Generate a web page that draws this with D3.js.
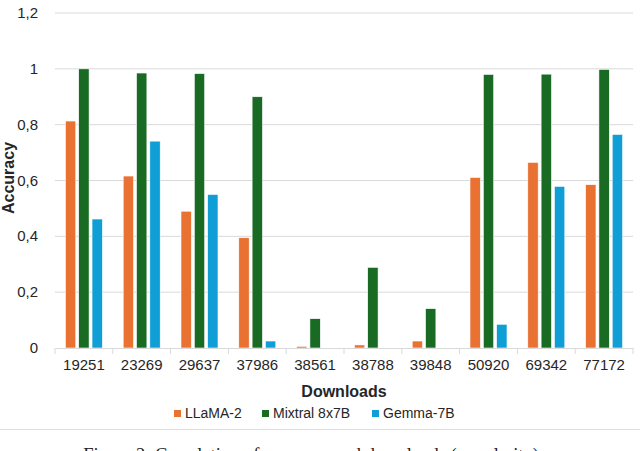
<!DOCTYPE html>
<html>
<head>
<meta charset="utf-8">
<script src="https://cdn.jsdelivr.net/npm/d3@7"></script>
<style>
  body { margin: 0; background: #fff; }
  svg { display: block; font-family: "Liberation Sans", Arial, sans-serif; }
</style>
</head>
<body>
<svg id="chart" width="640" height="451"></svg>
<script>
var downloads = ["19251", "23269", "29637", "37986", "38561", "38788", "39848", "50920", "69342", "77172"];
var llama = [0.813, 0.616, 0.49, 0.395, 0.006, 0.011, 0.025, 0.611, 0.665, 0.585];
var mixtral = [1.0, 0.985, 0.983, 0.9, 0.105, 0.289, 0.141, 0.98, 0.981, 0.998];
var gemma = [0.462, 0.741, 0.55, 0.025, 0, 0, 0, 0.085, 0.579, 0.765];
var seriesNames = ["LLaMA-2", "Mixtral 8x7B", "Gemma-7B"];
var yTicks = [0, 0.2, 0.4, 0.6, 0.8, 1, 1.2];

var colors = ["#E97132", "#196B24", "#0F9ED5"];
var seriesVals = [llama, mixtral, gemma];

var svg = d3.select("#chart");
var plotLeft = 55, plotRight = 633, plotTop = 13, plotBottom = 348;

var x = d3.scaleBand().domain(downloads).range([plotLeft, plotRight]);
var x1 = d3.scaleBand().domain(seriesNames).range([x.bandwidth() / 2 - 18.5, x.bandwidth() / 2 + 18.5]).paddingInner(0.22);
var y = d3.scaleLinear().domain([0, 1.2]).range([plotBottom, plotTop]);

// gridlines
svg.append("g").selectAll("line")
  .data(yTicks.slice(1))
  .enter().append("line")
  .attr("x1", plotLeft).attr("x2", plotRight)
  .attr("y1", function(d) { return y(d); }).attr("y2", function(d) { return y(d); })
  .attr("stroke", "#d9d9d9").attr("stroke-width", 1);

// y labels
svg.append("g").selectAll("text")
  .data(yTicks)
  .enter().append("text")
  .attr("x", 38).attr("y", function(d) { return y(d) + 5; })
  .attr("text-anchor", "end")
  .attr("font-size", 15).attr("fill", "#262626")
  .text(function(d) { return String(d).replace(".", ","); });

// bars
var groups = svg.append("g").selectAll("g")
  .data(downloads)
  .enter().append("g")
  .attr("transform", function(d) { return "translate(" + x(d) + ",0)"; });

groups.selectAll("rect")
  .data(function(d, i) {
    return seriesNames.map(function(s, j) { return { s: s, v: seriesVals[j][i], c: colors[j] }; });
  })
  .enter().append("rect")
  .attr("x", function(d) { return x1(d.s); })
  .attr("width", x1.bandwidth())
  .attr("y", function(d) { return y(d.v); })
  .attr("height", function(d) { return plotBottom - y(d.v); })
  .attr("fill", function(d) { return d.c; })
  .attr("stroke", "#fff").attr("stroke-width", 0.6);

// x axis
var xAxis = d3.axisBottom(x).tickSize(0).tickFormat(function(d) { return d; });
var ax = svg.append("g").attr("transform", "translate(0," + plotBottom + ")").call(xAxis);
ax.select(".domain").attr("stroke", "#d9d9d9");
ax.selectAll("text").attr("font-size", 15).attr("fill", "#262626").attr("dy", 0).attr("y", 22)
  .attr("font-family", "Liberation Sans, Arial, sans-serif");
svg.append("g").selectAll("line")
  .data(d3.range(downloads.length + 1))
  .enter().append("line")
  .attr("x1", function(i) { return plotLeft + i * x.step(); })
  .attr("x2", function(i) { return plotLeft + i * x.step(); })
  .attr("y1", plotBottom).attr("y2", plotBottom + 6)
  .attr("stroke", "#d9d9d9");

// axis titles
svg.append("text")
  .attr("x", (plotLeft + plotRight) / 2).attr("y", 397)
  .attr("text-anchor", "middle").attr("font-size", 16).attr("font-weight", "bold").attr("fill", "#262626")
  .text("Downloads");
svg.append("text")
  .attr("transform", "translate(14,178) rotate(-90)")
  .attr("text-anchor", "middle").attr("font-size", 16).attr("font-weight", "bold").attr("fill", "#262626")
  .text("Accuracy");

// legend
var legendX = [174, 262, 372];
var leg = svg.append("g").selectAll("g")
  .data(seriesNames)
  .enter().append("g")
  .attr("transform", function(d, i) { return "translate(" + legendX[i] + ",410)"; });
leg.append("rect").attr("width", 7).attr("height", 7).attr("fill", function(d, i) { return colors[i]; });
leg.append("text").attr("x", 11).attr("y", 8).attr("font-size", 14).attr("fill", "#262626")
  .text(function(d) { return d; });

// separator + caption (cut by the bottom edge, as in the source)
svg.append("line").attr("x1", 0).attr("x2", 640).attr("y1", 429.5).attr("y2", 429.5)
  .attr("stroke", "#e0e0e0");
svg.append("text")
  .attr("x", 311).attr("y", 461).attr("text-anchor", "middle")
  .attr("font-family", "Liberation Serif, Times New Roman, serif").attr("font-size", 18.5).attr("fill", "#222")
  .text("Figure 2: Correlation of accuracy and downloads (popularity)");
</script>
</body>
</html>
